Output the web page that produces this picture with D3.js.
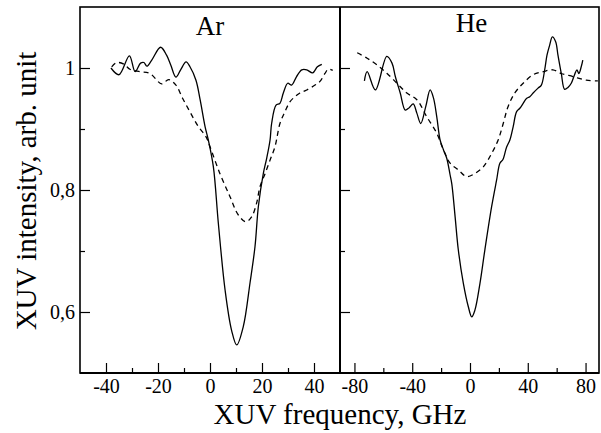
<!DOCTYPE html>
<html>
<head>
<meta charset="utf-8">
<script src="https://cdn.jsdelivr.net/npm/d3@7"></script>
<style>
  body { margin: 0; background: #fff; }
  svg text { font-family: "Liberation Serif", "Times New Roman", serif; fill: #000; }
</style>
</head>
<body>
<div id="chart"></div>
<script>
// Ar panel, measured (solid) and model (dashed)
const arSolidX = [-38.1,-35.0,-31.0,-28.8,-26.7,-25.4,-24.3,-22.4,-19.0,-16.7,-15.1,-13.1,-11.3,-9.2,-7.7,-5.4,-3.8,-1.9,-0.65,1.3,3.2,5.8,8.3,10.3,12.8,15.4,17.3,18.6,20.5,21.8,23.1,23.7,25.4,26.9,28.2,29.9,31.4,33.3,35.3,37.2,39.5,41.3,43.0];
const arSolidY = [1.000,0.989,1.020,0.994,1.008,1.009,1.003,1.013,1.034,1.021,1.005,0.985,0.997,1.010,1.002,0.980,0.948,0.904,0.882,0.838,0.746,0.636,0.570,0.546,0.576,0.648,0.707,0.773,0.827,0.852,0.882,0.909,0.939,0.942,0.959,0.975,0.972,0.986,0.997,0.997,0.992,1.002,1.006];
const arDashX = [-37.8,-35.9,-33.0,-30.8,-26.9,-23.1,-18.6,-15.9,-13.1,-10.5,-7.7,-4.5,-1.5,0,3.8,7.7,10.9,13.8,16.0,17.9,19.2,21.2,23.1,25.0,26.9,28.8,30.8,32.7,34.6,37.2,40.4,42.3,44.2,45.5,47.2];
const arDashY = [1.002,1.009,1.006,0.998,0.994,0.991,0.974,0.981,0.972,0.950,0.928,0.904,0.887,0.871,0.827,0.789,0.759,0.748,0.756,0.778,0.805,0.827,0.849,0.871,0.909,0.928,0.945,0.953,0.959,0.964,0.972,0.978,0.991,0.998,0.996];

// He panel
const heSolidX = [-73.1,-71.2,-65.5,-57.6,-54.0,-51.7,-48.3,-44.8,-42.1,-39.3,-36.8,-34.1,-30.6,-27.6,-25.3,-23.0,-20.7,-18.4,-16.1,-13.8,-12.6,-10.3,-8.1,-4.6,-1.2,1.2,3.4,6.9,10.3,15.0,18.4,20.7,22.8,25.3,27.6,29.9,32.2,34.5,36.8,39.1,41.4,43.7,47.1,49.4,51.7,53.3,55.2,57.0,59.3,60.9,63.2,65.5,67.8,70.1,72.4,74.0,75.4,77.0,78.1];
const heSolidY = [0.979,0.994,0.964,1.019,1.008,0.986,0.959,0.931,0.935,0.941,0.926,0.909,0.937,0.964,0.951,0.920,0.882,0.866,0.852,0.825,0.810,0.756,0.702,0.647,0.609,0.592,0.603,0.647,0.702,0.773,0.816,0.844,0.850,0.870,0.882,0.904,0.928,0.934,0.942,0.950,0.953,0.959,0.967,0.972,0.997,1.021,1.038,1.051,1.043,1.021,0.991,0.965,0.968,0.975,0.989,0.997,0.991,1.002,1.013];
const heDashX = [-78.1,-71.2,-64.3,-57.4,-50.6,-43.7,-36.8,-29.9,-23.0,-18.4,-13.8,-8.1,-2.3,3.4,9.2,15.0,19.5,23.0,26.4,31.0,36.8,43.7,50.6,57.4,63.2,71.2,80.5,88.5];
const heDashY = [1.025,1.016,1.005,0.991,0.975,0.959,0.948,0.920,0.893,0.866,0.844,0.833,0.822,0.827,0.838,0.860,0.882,0.909,0.937,0.959,0.975,0.989,0.994,0.997,0.991,0.986,0.980,0.979];

// ticks
const yMajor = [0.6, 0.8, 1];
const yMinor = [0.7, 0.9];
const arMajor = [-40, -20, 0, 20, 40];
const arMinor = [-30, -10, 10, 30];
const heMajor = [-80, -40, 0, 40, 80];
const heMinor = [-60, -20, 20, 60];

const W = 601, H = 433;
const plotTop = 7, plotBottom = 373, plotLeft = 80, plotMid = 340, plotRight = 599;

const svg = d3.select("#chart").append("svg")
    .attr("width", W).attr("height", H);

const y = d3.scaleLinear().domain([0.5, 1.1]).range([plotBottom, plotTop]);
const xAr = d3.scaleLinear().domain([-50, 50]).range([plotLeft, plotMid]);
const xHe = d3.scaleLinear().domain([-90, 90]).range([plotMid, 600]);

const fmt = d => String(d).replace(".", ",");

// x axes (ticks pointing up into the plot)
function xAxis(scale, majors, minors) {
    svg.append("g")
        .attr("transform", `translate(0,${plotBottom})`)
        .call(d3.axisBottom(scale).tickValues(majors).tickSize(-10).tickPadding(6).tickFormat(d => d))
        .call(g => g.select(".domain").remove())
        .call(g => g.selectAll(".tick line").attr("stroke-width", 1.2))
        .call(g => g.selectAll("text").attr("font-size", 20).attr("font-family", "Liberation Serif"));
    svg.append("g")
        .attr("transform", `translate(0,${plotBottom})`)
        .call(d3.axisBottom(scale).tickValues(minors).tickSize(-5).tickFormat(""))
        .call(g => g.select(".domain").remove())
        .call(g => g.selectAll(".tick line").attr("stroke-width", 1.2));
}
xAxis(xAr, arMajor, arMinor);
xAxis(xHe, heMajor, heMinor);

// y axes: labelled on the left panel, bare ticks on the right one
function yAxis(xpos, labels) {
    svg.append("g")
        .attr("transform", `translate(${xpos},0)`)
        .call(d3.axisRight(y).tickValues(yMajor).tickSize(10).tickFormat(""))
        .call(g => g.select(".domain").remove())
        .call(g => g.selectAll(".tick line").attr("stroke-width", 1.2));
    svg.append("g")
        .attr("transform", `translate(${xpos},0)`)
        .call(d3.axisRight(y).tickValues(yMinor).tickSize(5).tickFormat(""))
        .call(g => g.select(".domain").remove())
        .call(g => g.selectAll(".tick line").attr("stroke-width", 1.2));
    if (labels) {
        svg.append("g").selectAll("text")
            .data(yMajor)
            .enter().append("text")
            .attr("x", xpos - 5)
            .attr("y", d => y(d))
            .attr("dy", "0.35em")
            .attr("text-anchor", "end")
            .attr("font-size", 20)
            .text(fmt);
    }
}
yAxis(plotLeft, true);
yAxis(plotMid, false);

// frame
svg.append("rect")
    .attr("x", plotLeft).attr("y", plotTop)
    .attr("width", plotRight - plotLeft).attr("height", plotBottom - plotTop)
    .attr("fill", "none").attr("stroke", "#000").attr("stroke-width", 1.6);
svg.append("line")
    .attr("x1", plotMid).attr("x2", plotMid).attr("y1", plotTop).attr("y2", plotBottom)
    .attr("stroke", "#000").attr("stroke-width", 2);
svg.append("line")
    .attr("x1", plotLeft).attr("x2", plotRight).attr("y1", plotBottom).attr("y2", plotBottom)
    .attr("stroke", "#000").attr("stroke-width", 2.2);

// curves
function curve(scale, xs, ys, dashed) {
    const pts = xs.map((v, i) => [v, ys[i]]);
    const line = d3.line()
        .x(d => scale(d[0]))
        .y(d => y(d[1]))
        .curve(d3.curveCatmullRom.alpha(0.5));
    svg.append("path")
        .datum(pts)
        .attr("d", line)
        .attr("fill", "none")
        .attr("stroke", "#000")
        .attr("stroke-width", 1.3)
        .attr("stroke-dasharray", dashed ? "5,4" : null);
}
curve(xAr, arSolidX, arSolidY, false);
curve(xAr, arDashX, arDashY, true);
curve(xHe, heSolidX, heSolidY, false);
curve(xHe, heDashX, heDashY, true);

// panel titles
svg.append("text").attr("x", xAr(0)).attr("y", 35)
    .attr("text-anchor", "middle").attr("font-size", 27).text("Ar");
svg.append("text").attr("x", xHe(1)).attr("y", 32)
    .attr("text-anchor", "middle").attr("font-size", 27).text("He");

// axis titles
svg.append("text").attr("x", plotMid).attr("y", 424)
    .attr("text-anchor", "middle").attr("font-size", 29)
    .text("XUV frequency, GHz");
svg.append("text")
    .attr("transform", "translate(36,191) rotate(-90)")
    .attr("text-anchor", "middle").attr("font-size", 29)
    .text("XUV intensity, arb. unit");
</script>
</body>
</html>
